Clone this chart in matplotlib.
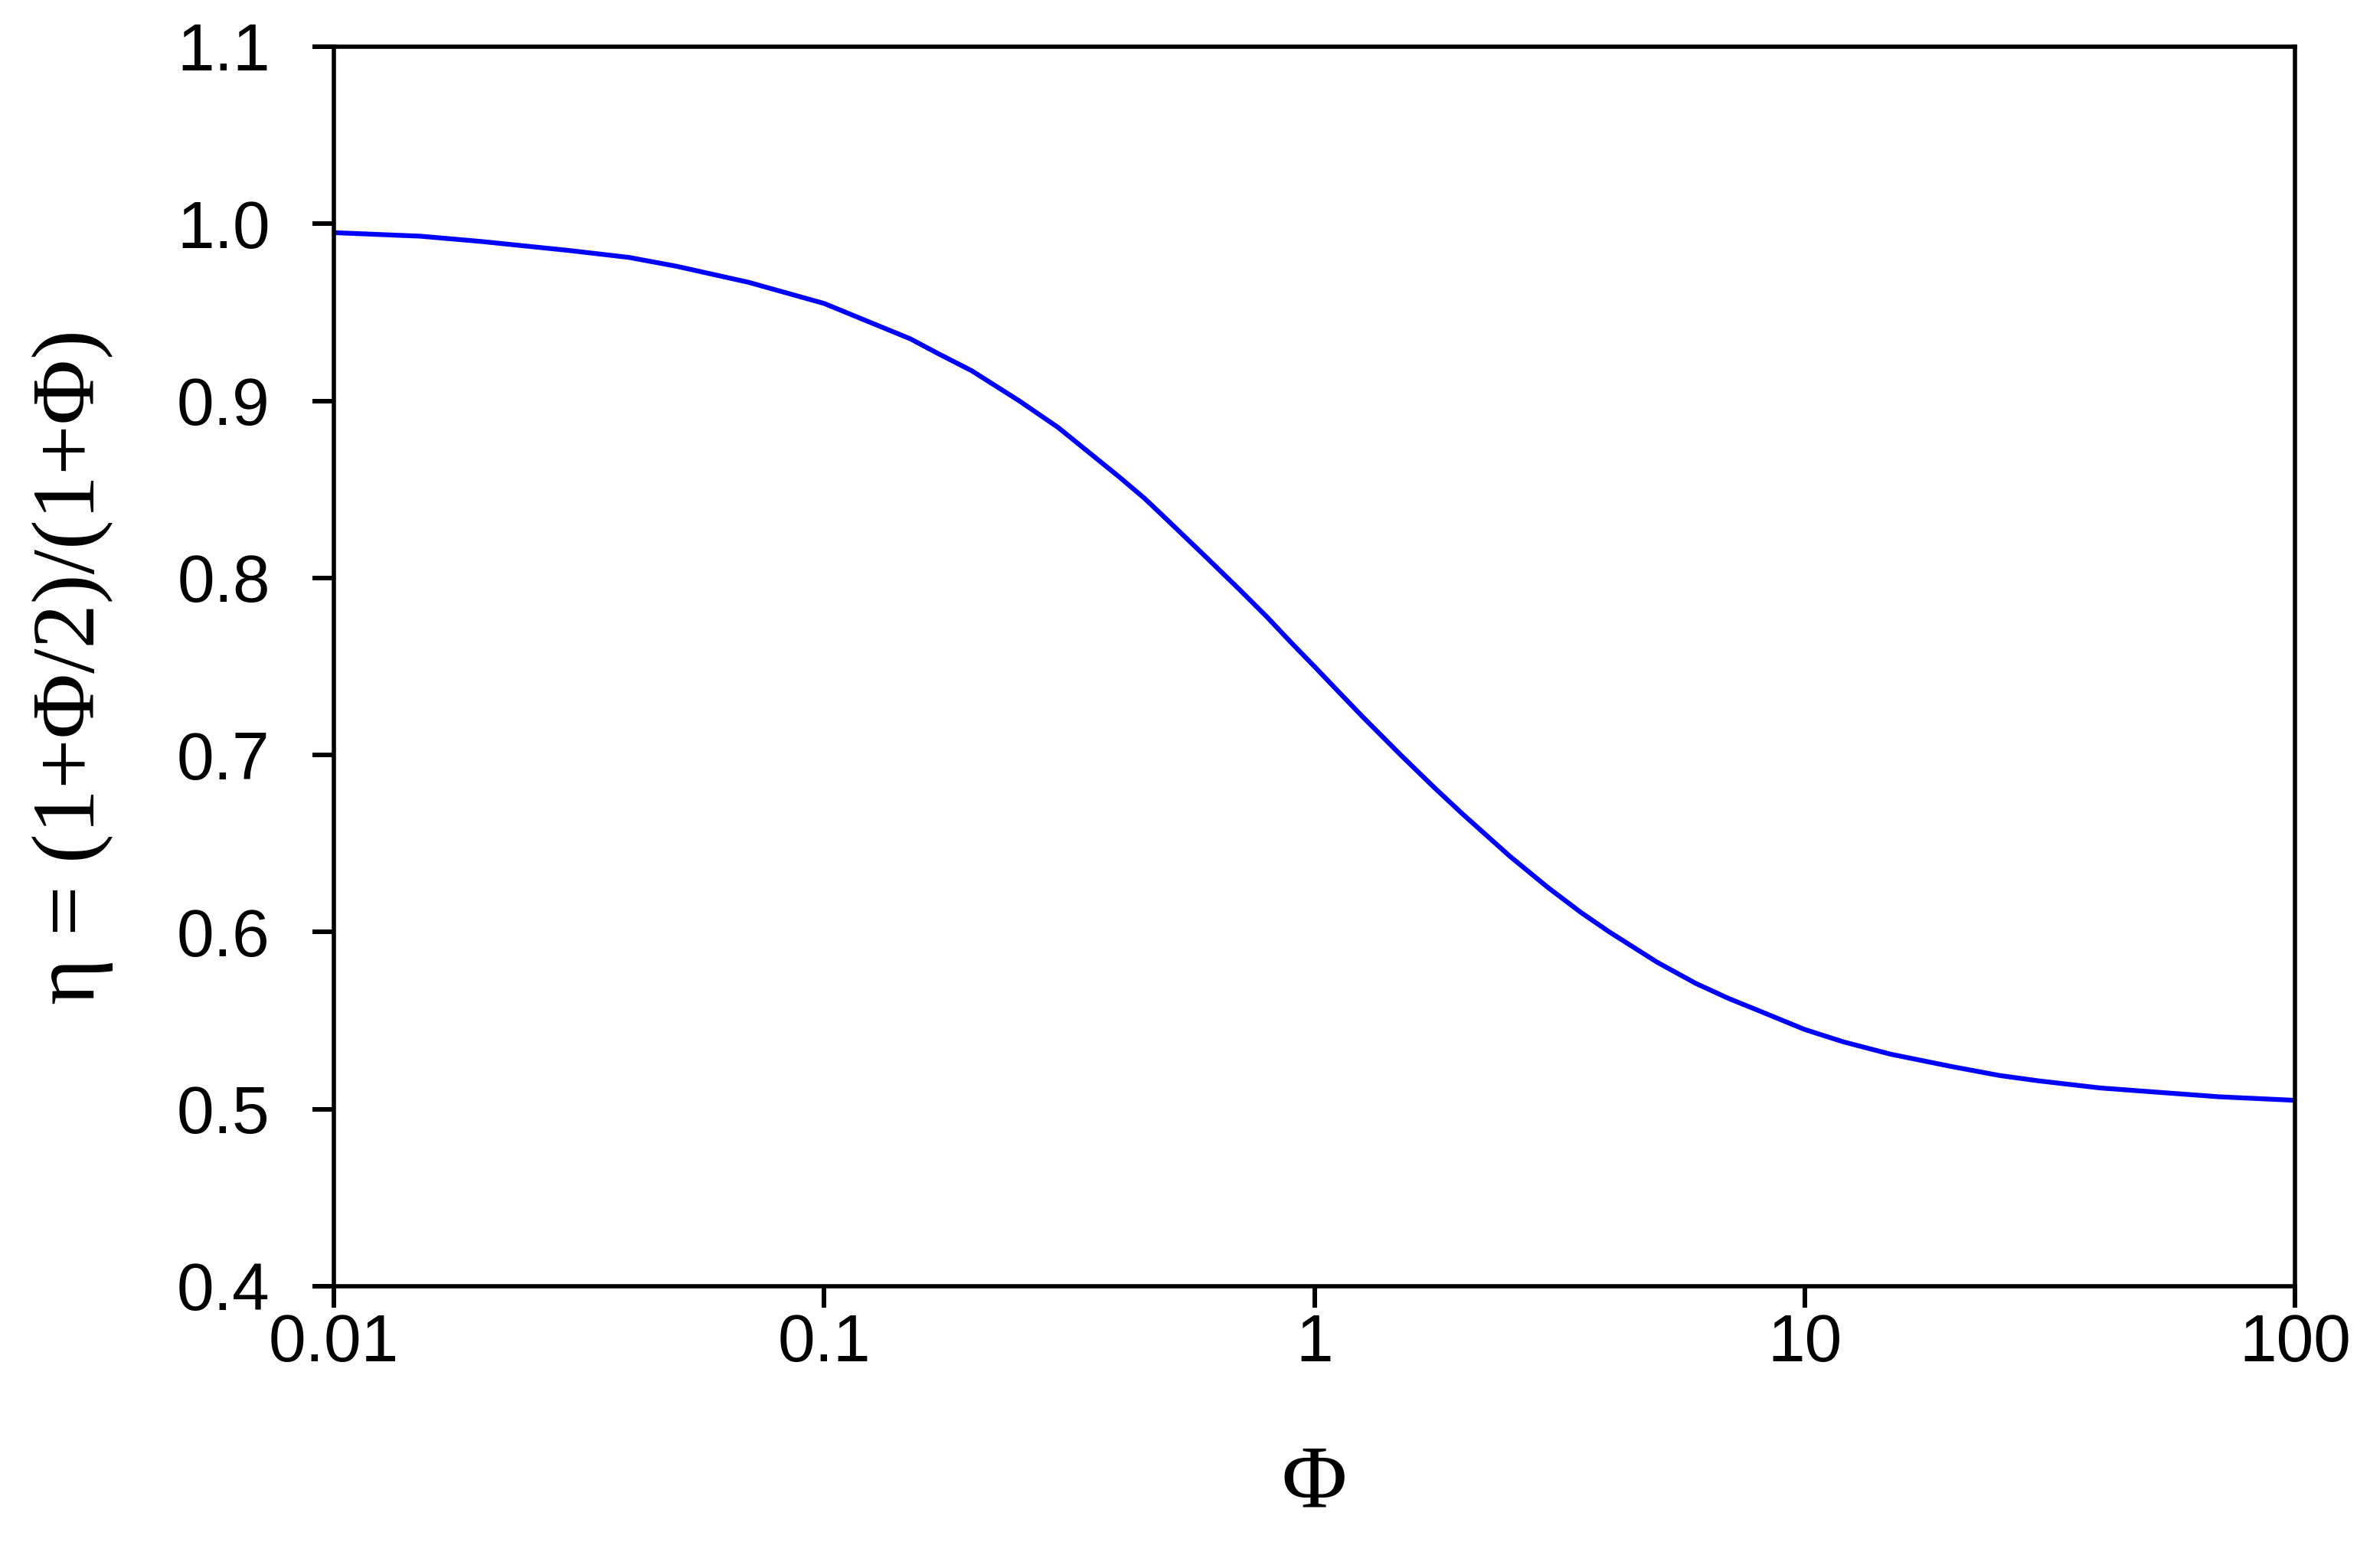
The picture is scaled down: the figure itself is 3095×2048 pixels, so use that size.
import matplotlib.pyplot as plt

# values
phi = [0.01, 0.015, 0.02, 0.03, 0.04, 0.05, 0.07, 0.1, 0.12, 0.15, 0.17, 0.2, 0.25,
       0.3, 0.35, 0.4, 0.45, 0.5, 0.6, 0.7, 0.8, 0.9, 1, 1.1, 1.25, 1.5, 1.75, 2,
       2.5, 3, 3.5, 4, 5, 6, 7, 8, 10, 12, 15, 20, 25, 30, 40, 50, 70, 100]
eta = [0.995, 0.993, 0.990, 0.985, 0.981, 0.976, 0.967, 0.955, 0.946, 0.935,
       0.927, 0.917, 0.900, 0.885, 0.870, 0.857, 0.845, 0.833, 0.812, 0.794,
       0.778, 0.763, 0.750, 0.738, 0.722, 0.700, 0.682, 0.667, 0.643, 0.625,
       0.611, 0.600, 0.583, 0.571, 0.5625, 0.556, 0.545, 0.538, 0.531, 0.524,
       0.519, 0.516, 0.512, 0.510, 0.507, 0.505]

x_ticks = [0.01, 0.1, 1, 10, 100]
x_ticklabels = ['0.01', '0.1', '1', '10', '100']
y_ticks = [0.4, 0.5, 0.6, 0.7, 0.8, 0.9, 1.0, 1.1]

plt.rcParams['font.family'] = ['Liberation Sans', 'DejaVu Sans']

fig = plt.figure(figsize=(30.95, 20.48), dpi=100)
ax = fig.add_axes([436 / 3095, 1 - 1680 / 2048, (2997 - 436) / 3095, (1680 - 61) / 2048])

ax.plot(phi, eta, color='#0000ff', lw=4.5, solid_capstyle='butt', solid_joinstyle='round')

ax.set_xscale('log')
ax.set_xlim(0.01, 100)
ax.set_ylim(0.4, 1.1)
ax.set_xticks(x_ticks)
ax.set_xticklabels(x_ticklabels)
ax.minorticks_off()
ax.set_yticks(y_ticks)
ax.set_yticklabels([f'{v:.1f}' for v in y_ticks])

for s in ax.spines.values():
    s.set_linewidth(4)
ax.tick_params(direction='out', length=20, width=4.3, labelsize=63)
ax.tick_params(axis='y', pad=40)
ax.tick_params(axis='x', pad=5)

ax.set_xlabel('Φ', family=['Liberation Serif'], fontsize=84, va='center')
ax.xaxis.set_label_coords(0.5, -0.161)
ax.set_ylabel('η = (1+Φ/2)/(1+Φ)', family=['Liberation Serif'], fontsize=84, va='center')
ax.yaxis.set_label_coords(-0.133, 0.5)

fig.savefig('out.png', dpi=100)
